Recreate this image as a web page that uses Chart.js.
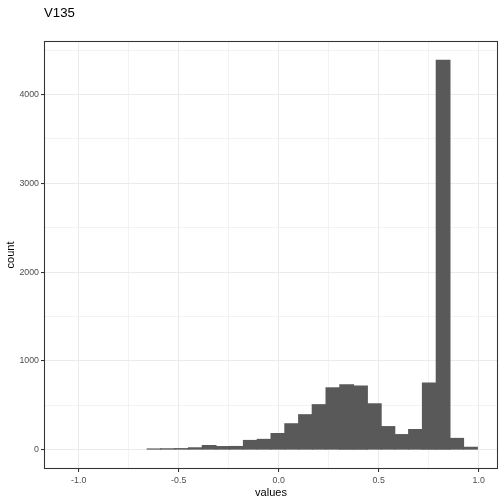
<!DOCTYPE html>
<html>
<head>
<meta charset="utf-8">
<script src="https://cdn.jsdelivr.net/npm/chart.js@4"></script>
<style>
  html, body { margin: 0; padding: 0; background: #fff; }
  #wrap { width: 504px; height: 504px; }
</style>
</head>
<body>
<div id="wrap"><canvas id="chart"></canvas></div>
<script>
// histogram bins (centres) and counts
var binCenters = [-1.036, -0.967, -0.899, -0.830, -0.761, -0.692, -0.623, -0.555, -0.486, -0.417,
                  -0.348, -0.279, -0.211, -0.142, -0.073, -0.004, 0.065, 0.134, 0.202, 0.271,
                  0.340, 0.409, 0.478, 0.546, 0.615, 0.684, 0.753, 0.822, 0.890, 0.959];
var counts = [0, 0, 0, 0, 0, 0, 6, 8, 10, 19,
              45, 33, 34, 102, 114, 180, 290, 392, 505, 695,
              728, 716, 515, 258, 168, 225, 750, 4385, 125, 25];

// axis ticks (major ones get labels, minor ones only a grid line)
var xMajor = [-1.0, -0.5, 0.0, 0.5, 1.0];
var xMinor = [-0.75, -0.25, 0.25, 0.75];
var yMajor = [0, 1000, 2000, 3000, 4000];
var yMinor = [500, 1500, 2500, 3500, 4500];

var chartTitle = "V135";
var xTitle = "values";
var yTitle = "count";

var FONT = "'Liberation Sans', Arial, sans-serif";

function setTicks(major, minor) {
  return function(scale) {
    scale.ticks = major.concat(minor).sort(function(a, b) { return a - b; })
      .map(function(v) { return { value: v }; });
  };
}

function isMajor(list, v) {
  return list.some(function(m) { return Math.abs(m - v) < 1e-9; });
}

// title text and panel border, drawn like ggplot's theme_bw
var extras = {
  id: 'extras',
  afterDraw: function(chart) {
    var ctx = chart.ctx, a = chart.chartArea;
    ctx.save();
    ctx.strokeStyle = '#333333';
    ctx.lineWidth = 1.07;
    ctx.strokeRect(a.left + 0.5, a.top + 0.5, a.right - a.left - 1, a.bottom - a.top - 1);
    ctx.fillStyle = '#000';
    ctx.font = '13.2px ' + FONT;
    ctx.textBaseline = 'middle';
    ctx.textAlign = 'left';
    ctx.fillText(chartTitle, 44, 13);
    ctx.restore();
  }
};

new Chart(document.getElementById('chart'), {
  type: 'bar',
  data: {
    datasets: [{
      // empty bins are left out so no hairline is drawn for them
      data: binCenters.map(function(x, i) { return { x: x, y: counts[i] > 0 ? counts[i] : null }; }),
      backgroundColor: '#595959',
      borderWidth: 0,
      inflateAmount: 0.6,
      barPercentage: 1,
      categoryPercentage: 1
    }]
  },
  options: {
    responsive: true,
    maintainAspectRatio: false,
    animation: false,
    layout: { padding: { top: 41, right: 6, left: 0, bottom: 0 } },
    plugins: { legend: { display: false }, tooltip: { enabled: false }, title: { display: false } },
    scales: {
      x: {
        type: 'linear',
        min: -1.1735,
        max: 1.0965,
        offset: false,
        afterBuildTicks: setTicks(xMajor, xMinor),
        afterFit: function(s) { s.height = 35; },
        border: { display: false },
        grid: {
          offset: false,
          color: '#EBEBEB',
          lineWidth: function(c) { return c.tick && isMajor(xMajor, c.tick.value) ? 1.07 : 0.6; },
          tickLength: 3,
          tickWidth: 1.07,
          tickColor: function(c) { return c.tick && isMajor(xMajor, c.tick.value) ? '#333333' : 'rgba(0,0,0,0)'; }
        },
        ticks: {
          autoSkip: false,
          maxRotation: 0,
          padding: 3,
          color: '#4D4D4D',
          font: { family: FONT, size: 8.8 },
          callback: function(v) { return isMajor(xMajor, v) ? v.toFixed(1) : ''; }
        },
        title: {
          display: true,
          text: xTitle,
          color: '#000',
          font: { family: FONT, size: 11 },
          padding: { top: 0, bottom: 4.5 }
        }
      },
      y: {
        type: 'linear',
        min: -219,
        max: 4604,
        afterBuildTicks: setTicks(yMajor, yMinor),
        afterFit: function(s) { s.width = 44; },
        border: { display: false },
        grid: {
          color: '#EBEBEB',
          lineWidth: function(c) { return c.tick && isMajor(yMajor, c.tick.value) ? 1.07 : 0.6; },
          tickLength: 3,
          tickWidth: 1.07,
          tickColor: function(c) { return c.tick && isMajor(yMajor, c.tick.value) ? '#333333' : 'rgba(0,0,0,0)'; }
        },
        ticks: {
          autoSkip: false,
          padding: 2,
          color: '#4D4D4D',
          font: { family: FONT, size: 8.8 },
          callback: function(v) { return isMajor(yMajor, v) ? String(v) : ''; }
        },
        title: {
          display: true,
          text: yTitle,
          color: '#000',
          font: { family: FONT, size: 11 },
          padding: { top: 4.5, bottom: 0 }
        }
      }
    }
  },
  plugins: [extras]
});
</script>
</body>
</html>
